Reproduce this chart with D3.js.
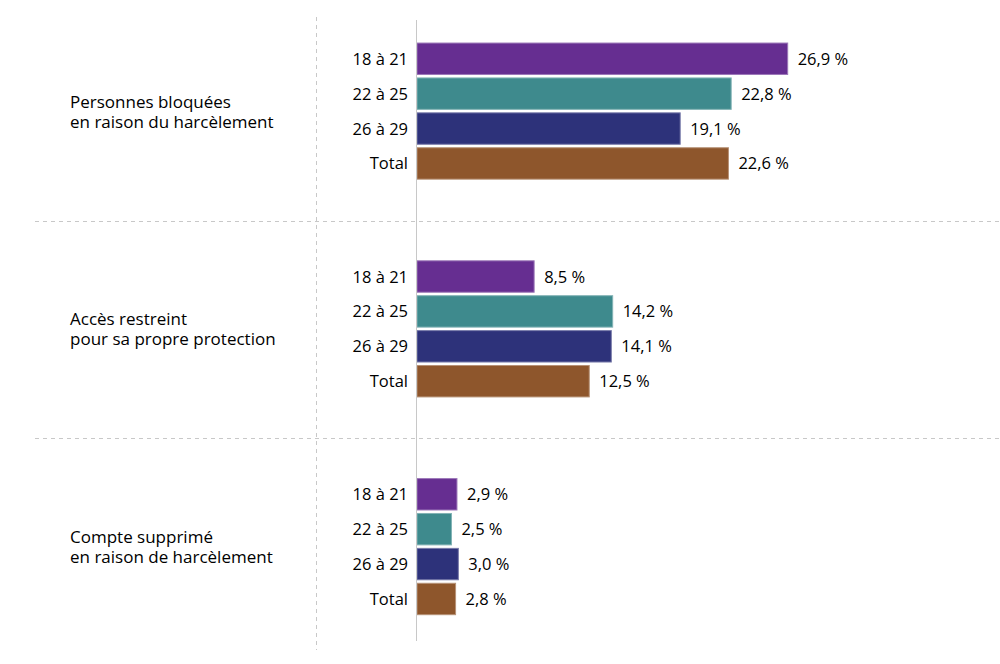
<!DOCTYPE html>
<html lang="fr">
<head>
<meta charset="utf-8">
<script src="https://cdn.jsdelivr.net/npm/d3@7"></script>
<style>
  html, body { margin: 0; padding: 0; background: #fff; }
  svg { display: block; font-family: "Open Sans", "Noto Sans", sans-serif; }
  .grid { stroke: #c8c8c8; stroke-width: 1; stroke-dasharray: 4 4; fill: none; }
  .axis-line { stroke: #c8c8c8; stroke-width: 1; }
  .age, .value { font-size: 16.5px; fill: #000; }
  .group-label { font-size: 17px; fill: #000; }
</style>
</head>
<body>
<svg id="chart" width="1000" height="664"></svg>
<script>
// categories
const groups = [
    ['Personnes bloquées', 'en raison du harcèlement'],
    ['Accès restreint', 'pour sa propre protection'],
    ['Compte supprimé', 'en raison de harcèlement']
];
const ages = ['18 à 21', '22 à 25', '26 à 29', 'Total'];

// values (%), one array per group, in the order of ages
const blocked = [26.9, 22.8, 19.1, 22.6];
const restricted = [8.5, 14.2, 14.1, 12.5];
const deleted = [2.9, 2.5, 3.0, 2.8];
const values = [blocked, restricted, deleted];

const colors = ['#662e91', '#3e8a8d', '#2d327a', '#8e562c'];

const svg = d3.select('#chart');
const fmt = v => d3.format('.1f')(v).replace('.', ',') + '\u00a0%';

const x = d3.scaleLinear()
    .domain([0, 30])
    .range([417, 830.4]);

const y0 = d3.scaleBand()
    .domain(d3.range(groups.length))
    .range([2.7, 656]);

const y1 = d3.scaleBand()
    .domain(ages)
    .range([38.6, 178.2])
    .paddingInner(0.1)
    .paddingOuter(0.05);

// dashed separators between groups
svg.append('g')
    .selectAll('line')
    .data(d3.range(1, groups.length))
    .join('line')
    .attr('class', 'grid')
    .attr('x1', 35)
    .attr('x2', 1000)
    .attr('y1', i => Math.round(y0(i) + 0.2) + 0.5)
    .attr('y2', i => Math.round(y0(i) + 0.2) + 0.5);

svg.append('line')
    .attr('class', 'grid')
    .attr('x1', 316.5).attr('x2', 316.5)
    .attr('y1', 17).attr('y2', 650);

// bars
const g = svg.append('g')
    .selectAll('g')
    .data(values)
    .join('g')
    .attr('transform', (d, i) => `translate(0,${y0(i)})`);

g.selectAll('rect')
    .data(d => d.map((v, j) => ({ age: ages[j], value: v, color: colors[j] })))
    .join('rect')
    .attr('x', x(0))
    .attr('y', d => y1(d.age))
    .attr('width', d => x(d.value) - x(0))
    .attr('height', y1.bandwidth())
    .attr('fill', d => d.color)
    .attr('stroke', d => d3.interpolateRgb(d.color, '#fff')(0.35))
    .attr('stroke-width', 1);

g.selectAll('text.value')
    .data(d => d.map((v, j) => ({ age: ages[j], value: v })))
    .join('text')
    .attr('class', 'value')
    .attr('x', d => x(d.value) + 10)
    .attr('y', d => y1(d.age) + y1.bandwidth() / 2 + 6)
    .text(d => fmt(d.value));

g.selectAll('text.age')
    .data(ages)
    .join('text')
    .attr('class', 'age')
    .attr('x', 408)
    .attr('text-anchor', 'end')
    .attr('y', d => y1(d) + y1.bandwidth() / 2 + 6)
    .text(d => d);

// group labels
g.append('text')
    .attr('class', 'group-label')
    .attr('x', 70)
    .attr('y', y0.bandwidth() / 2 - 4)
    .selectAll('tspan')
    .data((d, i) => groups[i])
    .join('tspan')
    .attr('x', 70)
    .attr('dy', (d, k) => k === 0 ? 0 : 20)
    .text(d => d);

// vertical axis line
svg.append('line')
    .attr('class', 'axis-line')
    .attr('x1', x(0) - 0.5).attr('x2', x(0) - 0.5)
    .attr('y1', 20).attr('y2', 641);
</script>
</body>
</html>
